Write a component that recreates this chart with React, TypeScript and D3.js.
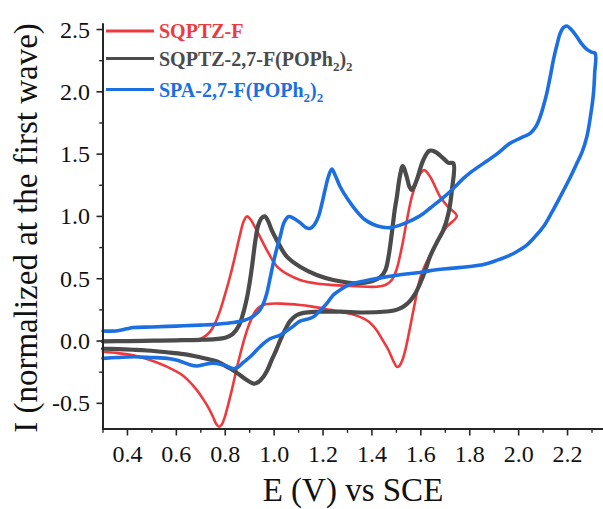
import React from "react";
import * as d3 from "d3";

const W = 603;
const H = 509;

const xTicks = [0.4, 0.6, 0.8, 1.0, 1.2, 1.4, 1.6, 1.8, 2.0, 2.2];
const xMinor = [0.3, 0.5, 0.7, 0.9, 1.1, 1.3, 1.5, 1.7, 1.9, 2.1, 2.3];
const yTicks = [-0.5, 0.0, 0.5, 1.0, 1.5, 2.0, 2.5];
const yMinor = [-0.25, 0.25, 0.75, 1.25, 1.75, 2.25];

const seriesNames = ["SQPTZ-F", "SQPTZ-2,7-F(POPh", "SPA-2,7-F(POPh"];
const seriesColors = ["#ef3a3d", "#4b4b4b", "#1c6fe0"];

// [E (V), I] traced along the CV loop
const red: [number, number][] = [
  [0.3, -0.0], [0.4, 0.0], [0.5, 0.0], [0.6, 0.004], [0.68, 0.01], [0.71, 0.03],
  [0.74, 0.08], [0.76, 0.15], [0.78, 0.25], [0.80, 0.38], [0.82, 0.52],
  [0.84, 0.68], [0.86, 0.85], [0.875, 0.96], [0.888, 1.0], [0.90, 0.985],
  [0.92, 0.92], [0.936, 0.86], [0.97, 0.73], [1.011, 0.6], [1.06, 0.53],
  [1.106, 0.49], [1.18, 0.46], [1.242, 0.449], [1.33, 0.44], [1.42, 0.436],
  [1.455, 0.45], [1.481, 0.49], [1.50, 0.57], [1.522, 0.75], [1.543, 0.97],
  [1.563, 1.158], [1.585, 1.29], [1.60, 1.35], [1.614, 1.372], [1.638, 1.319],
  [1.679, 1.158], [1.71, 1.08], [1.747, 1.003],
  [1.706, 0.917], [1.679, 0.837], [1.651, 0.73], [1.625, 0.64], [1.605, 0.55],
  [1.59, 0.45], [1.577, 0.32], [1.565, 0.2], [1.552, 0.07], [1.538, -0.06],
  [1.525, -0.15], [1.512, -0.2], [1.502, -0.207], [1.49, -0.17], [1.467, -0.07],
  [1.44, 0.02], [1.42, 0.085], [1.39, 0.15], [1.365, 0.182], [1.33, 0.208],
  [1.297, 0.225], [1.23, 0.25], [1.15, 0.278], [1.106, 0.289], [1.03, 0.3],
  [0.97, 0.297], [0.945, 0.28], [0.925, 0.245], [0.91, 0.19], [0.895, 0.12],
  [0.88, 0.03], [0.866, -0.07], [0.853, -0.17], [0.84, -0.28], [0.826, -0.4],
  [0.812, -0.51], [0.798, -0.61], [0.786, -0.67], [0.775, -0.688],
  [0.763, -0.665], [0.748, -0.6], [0.73, -0.53], [0.711, -0.47], [0.69, -0.41],
  [0.665, -0.35], [0.629, -0.28], [0.561, -0.206], [0.493, -0.152],
  [0.424, -0.115], [0.36, -0.097], [0.3, -0.086],
];

const gray: [number, number][] = [
  [0.3, -0.003], [0.4, 0.0], [0.5, 0.003], [0.6, 0.006], [0.697, 0.01],
  [0.76, 0.016], [0.8, 0.026], [0.83, 0.055], [0.855, 0.12], [0.873, 0.22],
  [0.888, 0.34], [0.9, 0.47], [0.911, 0.62], [0.922, 0.79], [0.935, 0.93],
  [0.95, 0.99], [0.963, 1.0], [0.976, 0.96], [0.99, 0.89], [1.011, 0.81],
  [1.052, 0.677], [1.106, 0.596], [1.174, 0.53], [1.242, 0.49], [1.30, 0.47],
  [1.338, 0.463], [1.4, 0.48], [1.433, 0.51], [1.455, 0.57], [1.468, 0.68],
  [1.481, 0.86], [1.493, 1.05], [1.502, 1.158], [1.514, 1.32], [1.526, 1.404],
  [1.542, 1.319], [1.553, 1.24], [1.563, 1.212], [1.583, 1.292], [1.61, 1.453],
  [1.635, 1.527], [1.658, 1.519], [1.692, 1.466], [1.713, 1.43], [1.733, 1.426],
  [1.727, 1.212], [1.713, 1.025], [1.692, 0.89], [1.665, 0.79], [1.638, 0.68],
  [1.615, 0.55], [1.597, 0.463], [1.577, 0.38], [1.556, 0.322], [1.535, 0.285],
  [1.515, 0.262], [1.49, 0.245], [1.461, 0.237], [1.365, 0.229], [1.27, 0.236],
  [1.174, 0.235], [1.12, 0.226], [1.09, 0.205], [1.065, 0.16], [1.045, 0.09],
  [1.025, 0.008], [1.008, -0.075], [0.99, -0.152], [0.972, -0.235],
  [0.956, -0.287], [0.935, -0.33], [0.915, -0.342], [0.89, -0.315],
  [0.861, -0.275], [0.83, -0.232], [0.806, -0.206], [0.779, -0.175],
  [0.75, -0.155], [0.697, -0.13], [0.63, -0.105], [0.561, -0.09],
  [0.48, -0.076], [0.424, -0.07], [0.36, -0.065], [0.3, -0.062],
];

const blue: [number, number][] = [
  [0.3, 0.08], [0.36, 0.083], [0.397, 0.098], [0.424, 0.108], [0.5, 0.113],
  [0.6, 0.12], [0.697, 0.128], [0.77, 0.136], [0.833, 0.148], [0.875, 0.165],
  [0.902, 0.185], [0.925, 0.215], [0.942, 0.25], [0.958, 0.31], [0.97, 0.383],
  [0.983, 0.5], [0.997, 0.63], [1.012, 0.75], [1.025, 0.84], [1.04, 0.95],
  [1.058, 0.998], [1.08, 0.985], [1.106, 0.95], [1.13, 0.91], [1.147, 0.904],
  [1.165, 0.935], [1.181, 0.998], [1.195, 1.1], [1.208, 1.212], [1.222, 1.32],
  [1.236, 1.38], [1.252, 1.32], [1.27, 1.238], [1.304, 1.13], [1.338, 1.04],
  [1.37, 0.975], [1.406, 0.935], [1.44, 0.915], [1.474, 0.91], [1.515, 0.93],
  [1.555, 0.962], [1.597, 1.005], [1.64, 1.07], [1.679, 1.13], [1.72, 1.2],
  [1.747, 1.252], [1.774, 1.305], [1.801, 1.35], [1.856, 1.426], [1.91, 1.5],
  [1.965, 1.587], [2.02, 1.64], [2.047, 1.667], [2.07, 1.72], [2.088, 1.8],
  [2.102, 1.89], [2.115, 1.988], [2.13, 2.13], [2.142, 2.255], [2.157, 2.38],
  [2.17, 2.47], [2.183, 2.515], [2.197, 2.528], [2.215, 2.5], [2.238, 2.442],
  [2.258, 2.385], [2.279, 2.34], [2.298, 2.318], [2.313, 2.309],
  [2.311, 2.15], [2.306, 1.988], [2.295, 1.82], [2.279, 1.64], [2.26, 1.52],
  [2.238, 1.426], [2.205, 1.29], [2.17, 1.158], [2.135, 1.03], [2.101, 0.917],
  [2.068, 0.84], [2.033, 0.77], [1.99, 0.715], [1.951, 0.677], [1.9, 0.64],
  [1.856, 0.614], [1.8, 0.598], [1.72, 0.583], [1.638, 0.565], [1.597, 0.55],
  [1.55, 0.54], [1.502, 0.528], [1.43, 0.505], [1.365, 0.48], [1.31, 0.455],
  [1.27, 0.41], [1.242, 0.37], [1.215, 0.3], [1.188, 0.245], [1.165, 0.2],
  [1.147, 0.182], [1.106, 0.16], [1.079, 0.12], [1.05, 0.08], [1.025, 0.048],
  [0.983, 0.018], [0.942, -0.046], [0.902, -0.126], [0.875, -0.17],
  [0.85, -0.212], [0.833, -0.222], [0.81, -0.205], [0.792, -0.193],
  [0.765, -0.18], [0.738, -0.179], [0.71, -0.19], [0.684, -0.2],
  [0.655, -0.19], [0.629, -0.171], [0.595, -0.15], [0.561, -0.139],
  [0.5, -0.132], [0.424, -0.126], [0.36, -0.132], [0.3, -0.139],
];

const seriesData = [red, gray, blue];
const seriesWidths = [2.6, 4.2, 3.6];

export default function App() {
  const x = d3.scaleLinear().domain([0.3, 2.345]).range([103, 603]);
  const y = d3.scaleLinear().domain([-0.706, 2.55]).range([429, 23.3]);
  const line = d3
    .line<[number, number]>()
    .x((d) => x(d[0]))
    .y((d) => y(d[1]))
    .curve(d3.curveCatmullRom.alpha(0.5));

  const axisColor = "#262626";
  const font = "'Liberation Serif', 'Times New Roman', serif";
  const x0 = x(0.3);
  const yb = y(-0.706);
  const fmt = (t: number) => d3.format(".1f")(t).replace("\u2212", "-");

  const legendY = [31, 58.5, 89.5];

  return (
    <svg
      width={W}
      height={H}
      style={{ position: "absolute", left: 0, top: 0, background: "#fff" }}
      fontFamily={font}
    >
      <rect x={0} y={0} width={W} height={H} fill="#fff" />
      {seriesData.map((d, i) => (
        <path
          key={i}
          d={line(d) || ""}
          fill="none"
          stroke={seriesColors[i]}
          strokeWidth={seriesWidths[i]}
          strokeLinejoin="round"
          strokeLinecap="round"
        />
      ))}
      {/* axes */}
      <line x1={x0} x2={x0} y1={y(2.55)} y2={yb + 1} stroke={axisColor} strokeWidth={2} />
      <line x1={x0 - 1} x2={603} y1={yb} y2={yb} stroke={axisColor} strokeWidth={2} />
      {xTicks.map((t) => (
        <g key={"xt" + t}>
          <line x1={x(t)} x2={x(t)} y1={yb} y2={yb + 6.5} stroke={axisColor} strokeWidth={1.6} />
          <text x={x(t)} y={462} textAnchor="middle" fontSize={24} fill="#111">
            {fmt(t)}
          </text>
        </g>
      ))}
      {xMinor.map((t) => (
        <line key={"xm" + t} x1={x(t)} x2={x(t)} y1={yb} y2={yb + 3.8} stroke={axisColor} strokeWidth={1.4} />
      ))}
      {yTicks.map((t) => (
        <g key={"yt" + t}>
          <line x1={x0 - 6.5} x2={x0} y1={y(t)} y2={y(t)} stroke={axisColor} strokeWidth={1.6} />
          <text x={90} y={y(t) + 8} textAnchor="end" fontSize={24} fill="#111">
            {fmt(t)}
          </text>
        </g>
      ))}
      {yMinor.map((t) => (
        <line key={"ym" + t} x1={x0 - 3.8} x2={x0} y1={y(t)} y2={y(t)} stroke={axisColor} strokeWidth={1.4} />
      ))}
      {/* axis titles */}
      <text x={353} y={501} textAnchor="middle" fontSize={33} fill="#111">
        E (V) vs SCE
      </text>
      <text
        transform={`translate(37,228) rotate(-90)`}
        textAnchor="middle"
        fontSize={33}
        fill="#111"
      >
        I (normalized at the first wave)
      </text>
      {/* legend */}
      {seriesNames.map((n, i) => (
        <g key={"lg" + i}>
          <line
            x1={106}
            x2={154}
            y1={legendY[i]}
            y2={legendY[i]}
            stroke={seriesColors[i]}
            strokeWidth={3.2}
          />
          <text x={159} y={legendY[i] + 7} fontSize={20} fontWeight="bold" fill={seriesColors[i]}>
            {n}
            {i > 0 ? (
              <>
                <tspan fontSize={13} dy={5}>2</tspan>
                <tspan dy={-5}>)</tspan>
                <tspan fontSize={13} dy={5}>2</tspan>
              </>
            ) : null}
          </text>
        </g>
      ))}
    </svg>
  );
}
